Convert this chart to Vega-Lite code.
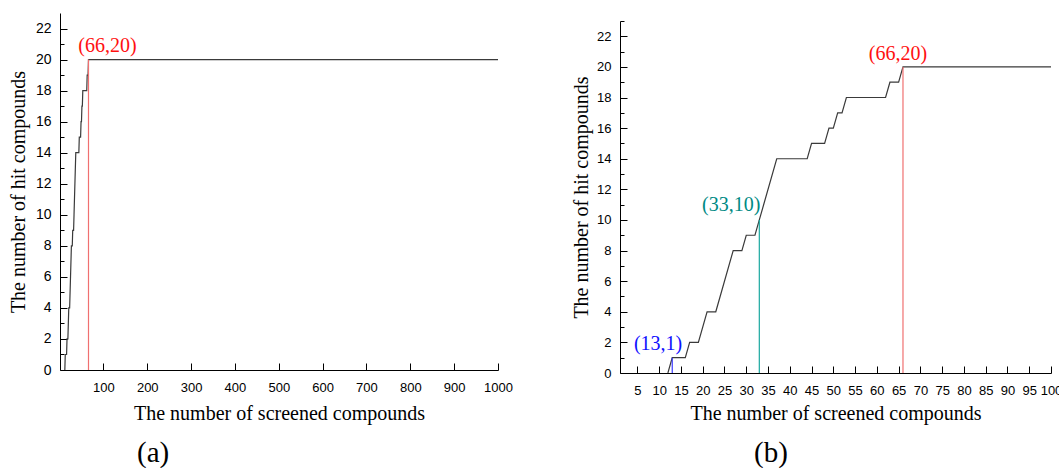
{
  "$schema": "https://vega.github.io/schema/vega-lite/v6.json",
  "background": "white",
  "padding": {"left": 8, "top": 13, "right": 0, "bottom": 0},
  "bounds": "full",
  "spacing": 58,
  "datasets": {
    "curve": [
      {"screened": 12, "hits": 0}, {"screened": 13, "hits": 1}, {"screened": 16, "hits": 1},
      {"screened": 17, "hits": 2}, {"screened": 19, "hits": 2}, {"screened": 21, "hits": 4},
      {"screened": 23, "hits": 4}, {"screened": 27, "hits": 8}, {"screened": 29, "hits": 8},
      {"screened": 30, "hits": 9}, {"screened": 32, "hits": 9}, {"screened": 33, "hits": 10},
      {"screened": 37, "hits": 14}, {"screened": 44, "hits": 14}, {"screened": 45, "hits": 15},
      {"screened": 48, "hits": 15}, {"screened": 49, "hits": 16}, {"screened": 50, "hits": 16},
      {"screened": 51, "hits": 17}, {"screened": 52, "hits": 17}, {"screened": 53, "hits": 18},
      {"screened": 62, "hits": 18}, {"screened": 63, "hits": 19}, {"screened": 65, "hits": 19},
      {"screened": 66, "hits": 20}, {"screened": 100, "hits": 20}, {"screened": 1000, "hits": 20}
    ],
    "points": [
      {"panel": "a", "screened": 66, "hits": 20, "label": "(66,20)"},
      {"panel": "b", "screened": 13, "hits": 1, "label": "(13,1)"},
      {"panel": "b", "screened": 33, "hits": 10, "label": "(33,10)"},
      {"panel": "b", "screened": 66, "hits": 20, "label": "(66,20)"}
    ]
  },
  "config": {
    "view": {"stroke": null},
    "axis": {
      "grid": false,
      "domainColor": "black",
      "tickColor": "black",
      "labelColor": "black",
      "titleColor": "black",
      "labelFont": "Liberation Sans",
      "labelFontSize": 13,
      "titleFont": "Liberation Serif",
      "titleFontSize": 20,
      "titleFontWeight": "normal"
    },
    "title": {"font": "Liberation Serif", "fontSize": 29, "fontWeight": "normal", "color": "black"}
  },
  "hconcat": [
    {
      "width": 438,
      "height": 357,
      "title": {"text": "(a)", "orient": "bottom", "anchor": "start", "frame": "group", "dx": 77, "offset": 16},
      "resolve": {"axis": {"x": "independent", "y": "independent"}},
      "layer": [
        {
          "data": {"name": "curve"},
          "mark": {"type": "line", "color": "#3a3a3a", "strokeWidth": 1.2, "clip": true},
          "encoding": {
            "x": {"field": "screened", "type": "quantitative",
              "scale": {"domain": [1, 1000], "nice": false, "zero": false},
              "axis": {"orient": "bottom", "values": [100, 200, 300, 400, 500, 600, 700, 800, 900, 1000], "format": "d",
                "tickSize": -7, "labelPadding": 18, "labelFlush": false, "labelOverlap": false,
                "title": "The number of screened compounds", "titlePadding": 9}},
            "y": {"field": "hits", "type": "quantitative",
              "scale": {"domain": [0, 23], "nice": false, "zero": true},
              "axis": {"orient": "left", "values": [0,1,2,3,4,5,6,7,8,9,10,11,12,13,14,15,16,17,18,19,20,21,22],
                "tickSize": {"condition": {"test": "datum.value % 2 == 1", "value": -4}, "value": -7},
                "labelExpr": "datum.value % 2 == 0 ? datum.label : ''",
                "labelFlush": false, "labelOverlap": false,
                "labelPadding": 16, "labelFontSize": 14,
                "title": "The number of hit compounds", "titlePadding": 7}}
          }
        },
        {
          "data": {"name": "points"},
          "transform": [{"filter": "datum.panel == 'a'"}],
          "mark": {"type": "rule", "strokeWidth": 1.2},
          "encoding": {
            "x": {"field": "screened", "type": "quantitative", "axis": null},
            "y": {"field": "hits", "type": "quantitative", "axis": null},
            "y2": {"datum": 0},
            "color": {"field": "label", "type": "nominal", "legend": null,
              "scale": {"domain": ["(13,1)", "(33,10)", "(66,20)"], "range": ["#3a3aff", "#1aa8a0", "#f07070"]}}
          }
        },
        {
          "data": {"name": "points"},
          "transform": [{"filter": "datum.panel == 'a'"}],
          "mark": {"type": "text", "font": "Liberation Serif", "fontSize": 20, "align": "center", "baseline": "alphabetic", "dx": 19, "dy": -8, "color": "#ff1010"},
          "encoding": {
            "x": {"field": "screened", "type": "quantitative", "axis": null},
            "y": {"field": "hits", "type": "quantitative", "axis": null},
            "text": {"field": "label"}
          }
        }
      ]
    },
    {
      "spacing": 1,
      "vconcat": [
        {
          "width": 431,
          "height": 1,
          "mark": {"type": "text"},
          "encoding": {"text": {"value": ""}}
        },
        {
          "width": 431,
          "height": 352,
          "title": {"text": "(b)", "orient": "bottom", "anchor": "start", "frame": "group", "dx": 134, "offset": 16},
          "resolve": {"axis": {"x": "independent", "y": "independent"}},
          "layer": [
            {
              "data": {"name": "curve"},
              "transform": [{"filter": "datum.screened <= 100"}],
              "mark": {"type": "line", "color": "#3a3a3a", "strokeWidth": 1.2, "clip": true},
              "encoding": {
                "x": {"field": "screened", "type": "quantitative",
                  "scale": {"domain": [1, 100], "nice": false, "zero": false},
                  "axis": {"orient": "bottom", "values": [5,10,15,20,25,30,35,40,45,50,55,60,65,70,75,80,85,90,95,100],
                    "tickSize": -7, "labelPadding": 18, "labelFlush": false, "labelOverlap": false,
                    "title": "The number of screened compounds", "titlePadding": 6}},
                "y": {"field": "hits", "type": "quantitative",
                  "scale": {"domain": [0, 23], "nice": false, "zero": true},
                  "axis": {"orient": "left", "values": [0,1,2,3,4,5,6,7,8,9,10,11,12,13,14,15,16,17,18,19,20,21,22,23],
                    "tickSize": {"condition": {"test": "datum.value % 2 == 1", "value": -4}, "value": -7},
                    "labelExpr": "datum.value % 2 == 0 ? datum.label : ''",
                    "labelPadding": 16, "labelFlush": false, "labelOverlap": false,
                    "title": "The number of hit compounds", "titlePadding": 5}}
              }
            },
            {
              "data": {"name": "points"},
              "transform": [{"filter": "datum.panel == 'b'"}],
              "mark": {"type": "rule", "strokeWidth": 1.2},
              "encoding": {
                "x": {"field": "screened", "type": "quantitative", "axis": null},
                "y": {"field": "hits", "type": "quantitative", "axis": null},
                "y2": {"datum": 0},
                "color": {"field": "label", "type": "nominal", "legend": null,
                  "scale": {"domain": ["(13,1)", "(33,10)", "(66,20)"], "range": ["#3a3aff", "#1aa8a0", "#f07070"]}}
              }
            },
            {
              "data": {"name": "points"},
              "transform": [{"filter": "datum.label == '(13,1)' && datum.panel == 'b'"}],
              "mark": {"type": "text", "font": "Liberation Serif", "fontSize": 20, "align": "right", "baseline": "alphabetic", "dx": 10, "dy": -8, "color": "#1010ff"},
              "encoding": {
                "x": {"field": "screened", "type": "quantitative", "axis": null},
                "y": {"field": "hits", "type": "quantitative", "axis": null},
                "text": {"field": "label"}
              }
            },
            {
              "data": {"name": "points"},
              "transform": [{"filter": "datum.label == '(33,10)' && datum.panel == 'b'"}],
              "mark": {"type": "text", "font": "Liberation Serif", "fontSize": 20, "align": "right", "baseline": "alphabetic", "dx": 1, "dy": -9, "color": "#008a84"},
              "encoding": {
                "x": {"field": "screened", "type": "quantitative", "axis": null},
                "y": {"field": "hits", "type": "quantitative", "axis": null},
                "text": {"field": "label"}
              }
            },
            {
              "data": {"name": "points"},
              "transform": [{"filter": "datum.label == '(66,20)' && datum.panel == 'b'"}],
              "mark": {"type": "text", "font": "Liberation Serif", "fontSize": 20, "align": "center", "baseline": "alphabetic", "dx": -5, "dy": -7, "color": "#ff1010"},
              "encoding": {
                "x": {"field": "screened", "type": "quantitative", "axis": null},
                "y": {"field": "hits", "type": "quantitative", "axis": null},
                "text": {"field": "label"}
              }
            }
          ]
        }
      ]
    }
  ]
}
